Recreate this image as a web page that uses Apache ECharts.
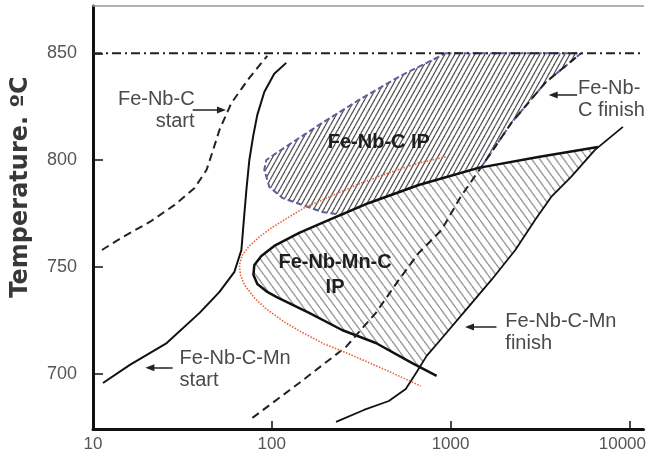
<!DOCTYPE html>
<html>
<head>
<meta charset="utf-8">
<script src="https://cdn.jsdelivr.net/npm/echarts@6/dist/echarts.min.js"></script>
<style>
  html, body { margin: 0; padding: 0; background: #fff; }
  #chart { width: 649px; height: 455px; }
</style>
</head>
<body>
<div id="chart"></div>
<script>
// Holding time (s, log scale) versus isothermal temperature (°C)
const xTicks = [10, 100, 1000, 10000];
const yTicks = [700, 750, 800, 850];

// Deformation temperature
const deformTemp = [[10, 850], [12000, 850]];

// Fe-Nb-C precipitation start (dashed)
const fenbcStart = [[11.22, 758.0], [14.69, 764.1], [20.77, 771.1], [28.62, 779.1], [37.0, 787.0],
  [43.2, 795.5], [46.6, 803.9], [51.0, 814.2], [59.5, 826.8], [74.9, 838.5], [94.4, 848.8]];

// Fe-Nb-C-Mn precipitation start (solid)
const fenbcmnStart = [[11.37, 695.8], [16.08, 704.3], [25.84, 714.5], [39.47, 728.6], [51.0, 738.4],
  [61.8, 747.8], [67.6, 758.0], [69.4, 769.7], [72.1, 786.1], [74.9, 800.1], [78.9, 811.8],
  [83.0, 821.2], [90.8, 831.9], [103.2, 840.4], [120.4, 845.5]];

// Fe-Nb-C precipitation finish (dashed)
const fenbcFinish = [[77.9, 679.5], [142.3, 695.8], [260.0, 712.7], [382.1, 728.6], [513.3, 744.0],
  [663.3, 756.6], [891.0, 767.4], [1137, 782.8], [1488, 796.9], [2187, 817.4], [3382, 836.2], [5368, 850]];

// Fe-Nb-C-Mn precipitation finish (solid)
const fenbcmnFinish = [[228.8, 677.6], [327.6, 683.2], [451.4, 687.4], [561.4, 693.0], [646.5, 701.0],
  [735.1, 708.5], [857.5, 715.0], [1260, 731.4], [1692, 744.0], [2302, 758.0], [2975, 772.1],
  [3653, 782.8], [4723, 792.2], [6424, 804.8], [9202, 815.6]];

// Interphase precipitation boundary, Fe-Nb-Mn-C
const fenbmncBoundary = [[6675, 806.2], [3093, 801.5], [1432, 796.4], [663.3, 788.4], [349.3, 780.0],
  [209.1, 772.1], [142.3, 766.0], [103.2, 759.9], [87.4, 755.2], [79.9, 751.0], [78.9, 746.4],
  [83.0, 742.1], [94.4, 738.4], [105.9, 736.1], [161.8, 728.6], [247.1, 720.6], [382.1, 714.5],
  [606.5, 705.2], [835.6, 699.1]];

// Interphase precipitation field, Fe-Nb-Mn-C
const fenbmncRegion = [[6675, 806.2], [3093, 801.5], [1432, 796.4], [663.3, 788.4], [349.3, 780.0],
  [209.1, 772.1], [142.3, 766.0], [103.2, 759.9], [87.4, 755.2], [79.9, 751.0], [78.9, 746.4],
  [83.0, 742.1], [94.4, 738.4], [105.9, 736.1], [161.8, 728.6], [247.1, 720.6], [382.1, 714.5],
  [606.5, 705.2], [672.0, 703.3], [735.1, 708.5], [857.5, 715.0], [1260, 731.4], [1692, 744.0],
  [2302, 758.0], [2975, 772.1], [3653, 782.8], [4723, 792.2], [6424, 804.8]];

// Interphase precipitation field, Fe-Nb-C
const fenbcRegion = [[937.8, 850], [5368, 850], [3382, 836.2], [2187, 817.4], [1488, 796.9],
  [1432, 796.4], [663.3, 788.4], [349.3, 780.0], [288.2, 777.2], [247.1, 774.4], [191.1, 775.8],
  [147.9, 779.1], [114.4, 782.4], [96.9, 787.5], [90.8, 795.5], [93.2, 800.1], [117.4, 805.8],
  [183.9, 816.5], [307.3, 828.2], [513.3, 839.0], [937.8, 850]];

// Dotted reference curve
const dottedCurve = [[937.8, 801.5], [663.3, 798.7], [451.4, 794.1], [307.3, 788.9], [209.1, 782.8],
  [151.8, 777.7], [125.2, 773.5], [99.4, 768.3], [85.2, 764.1], [74.9, 759.9], [68.5, 755.7],
  [65.9, 751.0], [66.8, 746.4], [70.3, 741.7], [79.9, 735.6], [93.2, 730.4], [117.4, 724.4],
  [142.3, 720.2], [196.1, 714.1], [270.3, 709.4], [434.4, 701.9], [680.6, 694.4]];

// Pointer arrows: [tail, head]
const arrows = [
  [[36.1, 823.5], [52.3, 823.5]],
  [[27.9, 702.9], [20.8, 702.9]],
  [[5100, 830.5], [3748, 830.5]],
  [[1805, 722.0], [1276, 722.0]]
];

// Curve captions: [time, temp, text, align]
const captions = [
  [37.0, 823.1, 'Fe-Nb-C\nstart', 'right'],
  [30.5, 701.9, 'Fe-Nb-C-Mn\nstart', 'left'],
  [5167, 828.2, 'Fe-Nb-\nC finish', 'left'],
  [2025, 719.2, 'Fe-Nb-C-Mn\nfinish', 'left']
];

// Field titles: [time, temp, text]
const fieldTitles = [
  [397, 808.1, 'Fe-Nb-C IP'],
  [225.9, 746.1, 'Fe-Nb-Mn-C\nIP']
];

function hatch(w, h, color, lw, rising) {
  const c = document.createElement('canvas');
  c.width = w; c.height = h;
  const ctx = c.getContext('2d');
  ctx.strokeStyle = color;
  ctx.lineWidth = lw;
  for (let k = -1; k <= 1; k++) {
    ctx.beginPath();
    if (rising) { ctx.moveTo(k * w, h); ctx.lineTo((k + 1) * w, 0); }
    else { ctx.moveTo(k * w, 0); ctx.lineTo((k + 1) * w, h); }
    ctx.stroke();
  }
  return { image: c, repeat: 'repeat' };
}

function field(points, fill, z) {
  return {
    type: 'custom', silent: true, z: z, clip: true,
    data: [points[0]],
    renderItem: (params, api) => ({
      type: 'polygon',
      shape: { points: points.map(p => api.coord(p)) },
      style: { fill: fill, stroke: null }
    })
  };
}

function curve(data, color, width, type, z) {
  return {
    type: 'line', data: data, showSymbol: false, symbol: 'none', smooth: false,
    silent: true, z: z || 3, animation: false,
    lineStyle: { color: color, width: width, type: type },
    emphasis: { disabled: true }
  };
}

function textSeries(items, font, lineHeight, color, alignOf) {
  return {
    type: 'custom', silent: true, z: 6,
    data: items,
    renderItem: (params, api) => {
      const it = items[params.dataIndex];
      const p = api.coord([it[0], it[1]]);
      const align = alignOf(it);
      return {
        type: 'text', x: p[0], y: p[1],
        style: {
          text: it[2], fill: color, font: font, lineHeight: lineHeight,
          align: align, textAlign: align, verticalAlign: 'middle', textVerticalAlign: 'middle'
        }
      };
    }
  };
}

const chart = echarts.init(document.getElementById('chart'), null, { renderer: 'canvas' });

const xAxisBase = { type: 'log', logBase: 10, min: 10, max: 12000 };

chart.setOption({
  animation: false,
  backgroundColor: '#ffffff',
  grid: { left: 93, right: 3, top: 6, bottom: 26, containLabel: false },
  xAxis: [
    Object.assign({}, xAxisBase, {
      position: 'bottom',
      axisLine: { lineStyle: { color: '#111', width: 3 } },
      axisTick: { inside: true, length: 8, lineStyle: { color: '#111', width: 1.5 }, customValues: xTicks },
      axisLabel: {
        customValues: xTicks, margin: 7, color: '#555', fontSize: 17, fontFamily: 'Liberation Sans',
        formatter: v => (v === xTicks[xTicks.length - 1] ? '{last|' + v + '}' : String(v)),
        rich: { last: { padding: [0, 14, 0, 0], color: '#555', fontSize: 17, fontFamily: 'Liberation Sans' } }
      },
      splitLine: { show: false }
    }),
    Object.assign({}, xAxisBase, {
      position: 'top',
      axisLine: { lineStyle: { color: '#999', width: 1.5 } },
      axisTick: { show: false }, axisLabel: { show: false }, splitLine: { show: false }
    })
  ],
  yAxis: {
    type: 'value', min: 674.3, max: 872.1,
    name: 'Temperature. ºC', nameLocation: 'middle', nameRotate: 90, nameGap: 60,
    nameTextStyle: { fontFamily: 'DejaVu Sans', fontWeight: 'bold', fontSize: 24, color: '#383838', padding: [0, 0, 0, 61] },
    axisLine: { lineStyle: { color: '#111', width: 3 } },
    axisTick: { inside: true, length: 10, lineStyle: { color: '#111', width: 1.5 }, customValues: yTicks },
    axisLabel: { customValues: yTicks, margin: 16, color: '#555', fontSize: 18, fontFamily: 'Liberation Sans' },
    splitLine: { show: false }
  },
  series: [
    field(fenbcRegion, hatch(5, 9, '#555555', 1.3, true), 1),
    field(fenbmncRegion, hatch(8, 11, '#a0a0a0', 1.5, false), 1),
    Object.assign(curve(deformTemp, '#222', 2, [9, 4, 2, 4], 3), {
      markLine: {
        silent: true, animation: false,
        symbol: ['none', 'triangle'], symbolSize: [7, 9],
        label: { show: false },
        lineStyle: { color: '#222', width: 1.5, type: 'solid' },
        emphasis: { disabled: true },
        data: arrows.map(a => [{ coord: a[0] }, { coord: a[1] }])
      }
    }),
    curve(fenbcRegion, '#5b5f9e', 2, [6, 3], 2),
    curve(fenbcStart, '#222', 2, [8, 5]),
    curve(fenbcmnStart, '#111', 2, 'solid'),
    curve(fenbcFinish, '#222', 2, [8, 5], 4),
    curve(fenbcmnFinish, '#111', 1.8, 'solid'),
    curve(fenbmncBoundary, '#111', 2.5, 'solid'),
    curve(dottedCurve, '#e8603a', 1.6, [1.5, 1.5], 4),
    textSeries(captions, '20px "Liberation Sans"', 22, '#4a4a4a', it => it[3]),
    textSeries(fieldTitles, 'bold 20px "Liberation Sans"', 25, '#1e1e1e', () => 'center')
  ]
});
</script>
</body>
</html>
